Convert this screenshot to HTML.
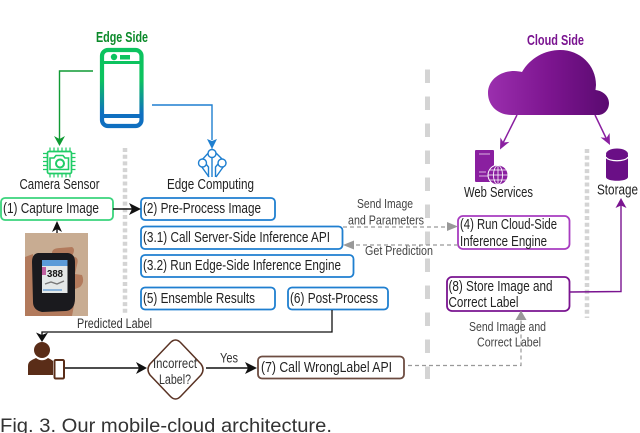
<!DOCTYPE html>
<html><head><meta charset="utf-8"><style>
html,body{margin:0;padding:0;background:#fff}
svg{display:block;filter:blur(.3px)}
text{font-family:"Liberation Sans Narrow","Liberation Sans",sans-serif;font-size:14.5px;fill:#222}
.b{fill:#fff;stroke-width:1.8}
.g{font-size:12.5px;fill:#444}
</style></head><body>
<svg width="640" height="433" viewBox="0 0 640 433" xmlns="http://www.w3.org/2000/svg">
<defs>
<linearGradient id="ph" gradientUnits="userSpaceOnUse" x1="0" y1="48" x2="0" y2="128"><stop offset="0.4" stop-color="#0cc35f"/><stop offset="0.82" stop-color="#0f6fc0"/></linearGradient>
<linearGradient id="cl" x1="0" y1="0" x2="1" y2="0"><stop offset="0" stop-color="#9b2fae"/><stop offset="0.5" stop-color="#7d1590"/><stop offset="1" stop-color="#5a0a70"/></linearGradient>
</defs>
<!-- separators -->
<line x1="125" y1="148" x2="125" y2="314" stroke="#d4d4d4" stroke-width="4.500" stroke-dasharray="4 2.700"/>
<line x1="587" y1="149" x2="587" y2="318" stroke="#d4d4d4" stroke-width="4.500" stroke-dasharray="4 2.700"/>
<line x1="427.5" y1="69.500" x2="427.5" y2="379" stroke="#d4d4d4" stroke-width="5" stroke-dasharray="13.500 13.500"/>

<!-- titles -->
<text x="96" y="42" style="font-weight:bold;font-size:15px;fill:#0b8a2a" textLength="52" lengthAdjust="spacingAndGlyphs">Edge Side</text>
<text x="527" y="45" style="font-weight:bold;font-size:15px;fill:#7a1490" textLength="57" lengthAdjust="spacingAndGlyphs">Cloud Side</text>

<!-- phone -->
<rect x="102" y="50" width="39.500" height="76" rx="6" fill="#fff" stroke="url(#ph)" stroke-width="4.200"/>
<rect x="103" y="61" width="37" height="3" fill="url(#ph)"/>
<rect x="103" y="114" width="37" height="4" fill="#0f6fc0"/>
<circle cx="114" cy="57" r="3.200" fill="#0cc35f"/>
<rect x="120" y="55" width="10" height="4.500" fill="#0cc35f"/>

<!-- phone connectors -->
<path d="M93 71H59.500V139" fill="none" stroke="#0f9a33" stroke-width="1.400"/>
<path d="M54 136L59.500 146L65 136L59.500 139Z" fill="#0f9a33"/>
<path d="M152 105H212V140" fill="none" stroke="#1f7fd0" stroke-width="1.400"/>
<path d="M207 139L212 149L217 139L212 141Z" fill="#1f7fd0"/>

<!-- camera chip -->
<rect x="47.500" y="151.500" width="24" height="22" rx="1.500" fill="#fff" stroke="#20cc66" stroke-width="1.700"/>
<path d="M43 153.500H47.500M43 157.500H47.500M43 161.500H47.500M43 165.500H47.500M43 169.500H47.500M71.500 153.500H75.500M71.500 157.500H75.500M71.500 161.500H75.500M71.500 165.500H75.500M71.500 169.500H75.500M50 147.500V151.500M54 147.500V151.500M58 147.500V151.500M62 147.500V151.500M66 147.500V151.500M70 147.500V151.500M50 173.500V177.500M54 173.500V177.500M58 173.500V177.500M62 173.500V177.500M66 173.500V177.500M70 173.500V177.500" stroke="#20cc66" stroke-width="1.200"/>
<path d="M50 158H54L56 155.500H63L65 158H68.500V169.500H50Z" fill="#fff" stroke="#20cc66" stroke-width="1.600"/>
<circle cx="60" cy="163.500" r="4" fill="none" stroke="#20cc66" stroke-width="2"/>

<!-- edge computing icon -->
<g fill="none" stroke="#1f7fd0" stroke-width="1.400">
<path d="M212 149L199 163L209 177M212 149L226 163L216 177"/>
<circle cx="212" cy="153.500" r="4" fill="#fff"/>
<circle cx="202.500" cy="163" r="4" fill="#fff"/>
<circle cx="222" cy="163" r="4" fill="#fff"/>
<path d="M212 157.500V177M208.500 177V167L206 164M215.500 177V167L218 164"/>
</g>

<text x="19.500" y="189" textLength="80" lengthAdjust="spacingAndGlyphs">Camera Sensor</text>
<text x="167" y="189" textLength="87" lengthAdjust="spacingAndGlyphs">Edge Computing</text>

<!-- boxes -->
<rect class="b" x="1" y="198" width="112" height="22" rx="4" stroke="#3ad47c"/>
<text x="3" y="213" textLength="96" lengthAdjust="spacingAndGlyphs">(1) Capture Image</text>
<rect class="b" x="141" y="198" width="134" height="22" rx="4" stroke="#1f7fd0"/>
<text x="143" y="213" textLength="118" lengthAdjust="spacingAndGlyphs">(2) Pre-Process Image</text>
<rect class="b" x="141" y="226.500" width="201.500" height="22.500" rx="4" stroke="#1f7fd0"/>
<text x="143" y="242" textLength="187" lengthAdjust="spacingAndGlyphs">(3.1) Call Server-Side Inference API</text>
<rect class="b" x="141" y="255" width="212.500" height="22" rx="4" stroke="#1f7fd0"/>
<text x="143" y="270" textLength="198" lengthAdjust="spacingAndGlyphs">(3.2) Run Edge-Side Inference Engine</text>
<rect class="b" x="141" y="287.500" width="134" height="22" rx="4" stroke="#1f7fd0"/>
<text x="143" y="303" textLength="112" lengthAdjust="spacingAndGlyphs">(5) Ensemble Results</text>
<rect class="b" x="288" y="287.500" width="100" height="22" rx="4" stroke="#1f7fd0"/>
<text x="290" y="303" textLength="88" lengthAdjust="spacingAndGlyphs">(6) Post-Process</text>
<rect class="b" x="458" y="216" width="111.500" height="33" rx="5" stroke="#a83cc0"/>
<text x="460" y="229" textLength="97" lengthAdjust="spacingAndGlyphs">(4) Run Cloud-Side</text>
<text x="460" y="246" textLength="87" lengthAdjust="spacingAndGlyphs">Inference Engine</text>
<rect class="b" x="447" y="277" width="122.500" height="34" rx="5" stroke="#7a1490"/>
<text x="448.500" y="291" textLength="104" lengthAdjust="spacingAndGlyphs">(8) Store Image and</text>
<text x="448.500" y="307" textLength="70" lengthAdjust="spacingAndGlyphs">Correct Label</text>
<rect class="b" x="258" y="356.500" width="146" height="22" rx="4" stroke="#6d4c41"/>
<text x="261" y="372" textLength="131" lengthAdjust="spacingAndGlyphs">(7) Call WrongLabel API</text>

<!-- capture to preprocess -->
<path d="M113 209H133" stroke="#111" stroke-width="1.400"/>
<path d="M129 203L141 209L129 215L132 209Z" fill="#111"/>
<!-- photo arrow -->
<path d="M57 233V224" stroke="#111" stroke-width="1.400"/>
<path d="M52 232L57 221L62 232L57 229Z" fill="#111"/>

<!-- photo -->
<rect x="25" y="233" width="63" height="83" fill="#c8ac92"/>
<path d="M25 257L33 254L33 316L25 316Z" fill="#b27a5c"/>
<path d="M52 253Q52 248 60 248L72 247Q76 249 72 256L75 257Q79 258 77 265L75 274L82 275Q85 282 80 287L75 289L75 300L72 316H30L32 290Z" fill="#b27a5c"/>
<path d="M38 253L68 253Q75 254 75 262V298Q75 310 66 311L42 312Q33 310 33 302L32 262Q32 254 38 253Z" fill="#1a1a1e"/>
<rect x="42" y="260" width="25.500" height="33" fill="#e4e8e8"/>
<rect x="42" y="260" width="25.500" height="6" fill="#5b9bd8"/>
<rect x="42" y="267" width="4" height="8" fill="#c060a0"/>
<text x="47" y="277" style="font-size:10px;font-weight:bold;fill:#111" textLength="16" lengthAdjust="spacingAndGlyphs">388</text>
<path d="M45 284L51 282L57 284L64 281" stroke="#777" stroke-width="1.400" fill="none"/>
<path d="M43 290H62" stroke="#6fa4d8" stroke-width="1.500"/>

<!-- dashed links -->
<path d="M343 227H450" stroke="#999" stroke-width="1.200" stroke-dasharray="4 3"/>
<path d="M447 222L458 226.500L447 231Z" fill="#999"/>
<path d="M458 245H352" stroke="#999" stroke-width="1.200" stroke-dasharray="4 3"/>
<path d="M354 240.500L343 245L354 249.500Z" fill="#999"/>
<path d="M408 365.500H521V318" fill="none" stroke="#999" stroke-width="1.200" stroke-dasharray="4 3"/>
<path d="M515.500 320L521 310.500L526.500 320Z" fill="#999"/>

<text x="357" y="208" class="g" textLength="56" lengthAdjust="spacingAndGlyphs">Send Image</text>
<text x="348" y="224.500" class="g" textLength="76" lengthAdjust="spacingAndGlyphs">and Parameters</text>
<text x="365" y="255" class="g" textLength="68" lengthAdjust="spacingAndGlyphs">Get Prediction</text>
<text x="469" y="331" class="g" textLength="77" lengthAdjust="spacingAndGlyphs">Send Image and</text>
<text x="477" y="346.500" class="g" textLength="64" lengthAdjust="spacingAndGlyphs">Correct Label</text>

<!-- cloud -->
<path d="M512 115C497 115 488 105 488 93C488 80 500 71 514 71C517 71 520 71.500 522 72C530 58 545 50 560 50C580 50 596 65 596 85L595.500 90C604 91 609 97 609 103C609 110 604 115 598 115Z" fill="url(#cl)"/>
<!-- cloud arrows -->
<path d="M517 115L503 143" stroke="#8a1fa0" stroke-width="1.500"/>
<path d="M500 149.500L500.400 137.500L503.500 142.500L509.400 141.900Z" fill="#8a1fa0"/>
<path d="M595 115L607 140" stroke="#8a1fa0" stroke-width="1.500"/>
<path d="M610 145L609.600 133L606.500 138L600.600 137.400Z" fill="#8a1fa0"/>

<!-- web services icon -->
<rect x="475" y="150" width="19" height="32" rx="1" fill="#8a1fa0"/>
<path d="M479 154H490M479 176H488M479 172H486" stroke="#d8b0e0" stroke-width="1"/>
<circle cx="498" cy="175" r="10.500" fill="#fff"/>
<circle cx="498" cy="175" r="9.500" fill="#8a1fa0"/>
<g stroke="#fff" stroke-width="0.800" fill="none"><ellipse cx="498" cy="175" rx="4.500" ry="9.500"/><path d="M498 165.500V184.500M488.500 175H507.500M490 170H506M490 180H506"/></g>

<!-- storage icon -->
<path d="M606 155V177C606 182 628 182 628 177V155Z" fill="#6a0f86"/>
<ellipse cx="617" cy="154" rx="11" ry="5.500" fill="#6a0f86"/>
<path d="M606 157C608 162 626 162 628 157" stroke="#fff" stroke-width="1.200" fill="none"/>

<text x="464" y="197" textLength="69" lengthAdjust="spacingAndGlyphs">Web Services</text>
<text x="597" y="194.500" textLength="41" lengthAdjust="spacingAndGlyphs">Storage</text>

<!-- store to storage -->
<path d="M570 292L621 291.500V205" fill="none" stroke="#7a1490" stroke-width="1.400"/>
<path d="M615.500 208L621 198L626.500 208L621 205.500Z" fill="#7a1490"/>

<!-- predicted label -->
<path d="M332 310V332H42V338" fill="none" stroke="#111" stroke-width="1.300"/>
<path d="M36 332.500L42 342L48 332.500L42 335Z" fill="#111"/>
<text x="77" y="328" style="fill:#333;font-size:13.500px" textLength="75" lengthAdjust="spacingAndGlyphs">Predicted Label</text>

<!-- user -->
<circle cx="42" cy="350" r="8" fill="#5a2d18"/>
<path d="M28 375V366C28 361 32 360 36 358C40 361 44 361 48 358C50 359 52 360 53 361V375Z" fill="#5a2d18"/>
<rect x="54.500" y="360" width="9.500" height="18.500" rx="1.200" fill="#fff" stroke="#5a2d18" stroke-width="2"/>

<path d="M65 368H140" stroke="#111" stroke-width="1.400"/>
<path d="M136 362L147 368L136 374L139 368Z" fill="#111"/>

<!-- diamond -->
<path d="M170 343Q175.500 337 181 343L201 364Q205 369.500 201 375L181 396Q175.500 402 170 396L150 375Q146 369.500 150 364Z" fill="#fff" stroke="#5a3324" stroke-width="1.500"/>
<text x="153" y="368" textLength="44" lengthAdjust="spacingAndGlyphs" style="font-size:13.500px;fill:#333">Incorrect</text>
<text x="159" y="384" textLength="32" lengthAdjust="spacingAndGlyphs" style="font-size:13.500px;fill:#333">Label?</text>

<path d="M206 368H250" stroke="#111" stroke-width="1.400"/>
<path d="M245 362L257 368L245 374L248 368Z" fill="#111"/>
<text x="220" y="362.500" textLength="18" lengthAdjust="spacingAndGlyphs" style="fill:#333;font-size:13.500px">Yes</text>

<!-- caption -->
<text x="0" y="432" style='font-family:"Liberation Sans",sans-serif;font-size:19.500px;fill:#333' textLength="332" lengthAdjust="spacingAndGlyphs">Fig. 3. Our mobile-cloud architecture.</text>
</svg>
</body></html>
